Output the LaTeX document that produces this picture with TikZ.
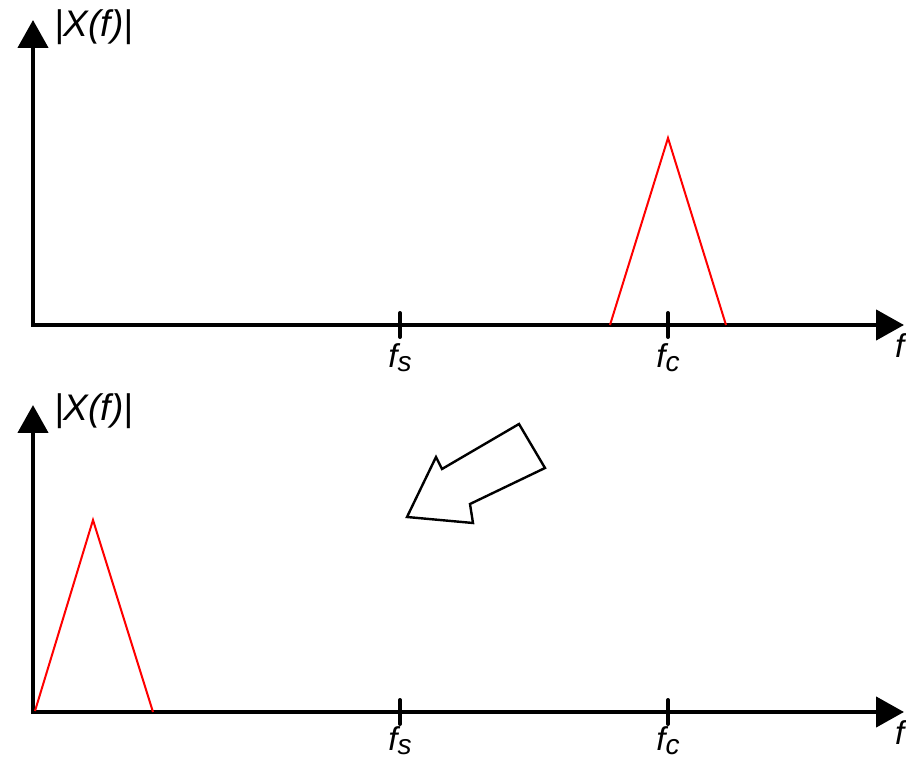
\documentclass[tikz,border=0pt]{standalone}
\usepackage{fontspec}
\setmainfont{Liberation Sans}
\usetikzlibrary{arrows.meta}
\begin{document}
\begin{tikzpicture}[x=1pt,y=-1pt,
  axis/.style={line width=4.5pt,-{Triangle[length=28pt,width=30pt]}},
  tick/.style={line width=4pt,line cap=round},
  peak/.style={red,line width=2pt},
  lab/.style={font=\fontsize{37}{37}\selectfont\itshape,inner sep=0pt},
  ticklab/.style={font=\fontsize{33}{33}\selectfont\itshape,inner sep=0pt},
  bigarrow/.style={draw,line width=2.4pt,fill=white,line join=miter}]
\useasboundingbox[fill=white] (0,0) rectangle (906,759);
% ---------- top panel ----------
\coordinate (y1) at (33,20);
\coordinate (x1) at (904,325);
\draw[axis] (33,327) -- (y1);
\draw[axis] (31,325) -- (x1);
\node[lab,anchor=west] (ylab1) at (54,27) {|X(f)|};
\coordinate (fs1a) at (400,313); \coordinate (fs1b) at (400,337);
\coordinate (fc1a) at (668,313); \coordinate (fc1b) at (668,337);
\draw[tick] (fs1a) -- (fs1b);
\draw[tick] (fc1a) -- (fc1b);
\node[ticklab] (fs1) at (400,358) {f\raisebox{-4pt}{\fontsize{28}{28}\selectfont s}};
\node[ticklab] (fc1) at (668,358) {f\raisebox{-4pt}{\fontsize{28}{28}\selectfont c}};
\node[ticklab,anchor=west] (f1) at (895,346) {f};
\coordinate (p1a) at (610,325); \coordinate (p1b) at (668,138); \coordinate (p1c) at (726,325);
\draw[peak] (p1a) -- (p1b) -- (p1c);
% ---------- bottom panel ----------
\coordinate (y2) at (33,405);
\coordinate (x2) at (904,712);
\draw[axis] (33,714) -- (y2);
\draw[axis] (31,712) -- (x2);
\node[lab,anchor=west] (ylab2) at (54,411) {|X(f)|};
\coordinate (fs2a) at (400,700); \coordinate (fs2b) at (400,724);
\coordinate (fc2a) at (668,700); \coordinate (fc2b) at (668,724);
\draw[tick] (fs2a) -- (fs2b);
\draw[tick] (fc2a) -- (fc2b);
\node[ticklab] (fs2) at (400,741) {f\raisebox{-4pt}{\fontsize{28}{28}\selectfont s}};
\node[ticklab] (fc2) at (668,741) {f\raisebox{-4pt}{\fontsize{28}{28}\selectfont c}};
\node[ticklab,anchor=west] (f2) at (895,733) {f};
\coordinate (p2a) at (35,711); \coordinate (p2b) at (93,520); \coordinate (p2c) at (153,712);
\draw[peak] (p2a) -- (p2b) -- (p2c);
% ---------- hollow arrow ----------
\draw[bigarrow] (519,424) -- (545,468) -- (470,504) -- (473,523) -- (407,517)
  -- (436,457) -- (442,469) -- cycle;
\end{tikzpicture}
\end{document}
